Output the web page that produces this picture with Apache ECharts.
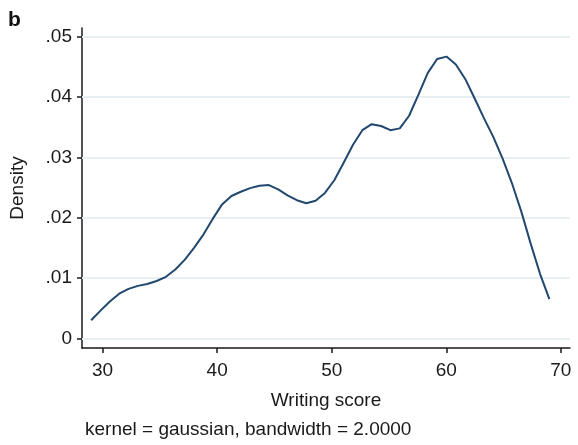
<!DOCTYPE html>
<html>
<head>
<meta charset="utf-8">
<script src="https://cdn.jsdelivr.net/npm/echarts@6/dist/echarts.min.js"></script>
<style>html,body{margin:0;padding:0;background:#fff}#c{width:578px;height:445px}</style>
</head>
<body>
<div id="c"></div>
<script>
// Writing score grid (50 evaluation points from 29 to 69)
const xStart = 29, xEnd = 69, nPoints = 50;
const density = [
  0.0030, 0.0046, 0.0061, 0.0074, 0.0082, 0.0087, 0.0090, 0.0095, 0.0102, 0.0114,
  0.0130, 0.0150, 0.0172, 0.0198, 0.0222, 0.0236, 0.0243, 0.0249, 0.0253, 0.0254,
  0.0247, 0.0237, 0.0229, 0.0224, 0.0228, 0.0241, 0.0262, 0.0291, 0.0321, 0.0345,
  0.0355, 0.0352, 0.0345, 0.0348, 0.0369, 0.0404, 0.0440, 0.0463, 0.0467, 0.0454,
  0.0430, 0.0398, 0.0365, 0.0334, 0.0298, 0.0257, 0.0210, 0.0157, 0.0107, 0.0065
];
const xTicks = [30, 40, 50, 60, 70];
const yTicks = [0, 0.01, 0.02, 0.03, 0.04, 0.05];
const yTickLabels = ['0', '.01', '.02', '.03', '.04', '.05'];

const data = density.map((d, i) => [xStart + (xEnd - xStart) * i / (nPoints - 1), d]);
const font = 'Liberation Sans, Arial, sans-serif';
const chart = echarts.init(document.getElementById('c'), null, {renderer: 'canvas'});
chart.setOption({
  animation: false,
  backgroundColor: '#fff',
  grid: {left: 82, right: 8, top: 28, bottom: 97, containLabel: false, outerBoundsMode: 'none'},
  xAxis: {
    type: 'value', min: 28.2, max: 70.8,
    name: 'Writing score', nameLocation: 'middle', nameGap: 43,
    nameTextStyle: {fontFamily: font, fontSize: 19, color: '#1a1a1a'},
    axisLine: {show: true, onZero: false, lineStyle: {color: '#1a1a1a', width: 1.5}},
    axisTick: {show: true, length: 5, customValues: xTicks, lineStyle: {color: '#1a1a1a', width: 1.5}},
    axisLabel: {customValues: xTicks, margin: 13, fontFamily: font, fontSize: 19, color: '#1a1a1a', showMinLabel: true, showMaxLabel: true, hideOverlap: false},
    splitLine: {show: false}
  },
  yAxis: {
    type: 'value', min: -0.0016, max: 0.05144,
    name: 'Density', nameLocation: 'middle', nameGap: 55, nameRotate: 90,
    nameTextStyle: {fontFamily: font, fontSize: 19, color: '#1a1a1a'},
    axisLine: {show: true, onZero: false, lineStyle: {color: '#1a1a1a', width: 1.5}},
    axisTick: {show: true, length: 5, customValues: yTicks, lineStyle: {color: '#1a1a1a', width: 1.5}},
    axisLabel: {customValues: yTicks, margin: 10, fontFamily: font, fontSize: 19, color: '#1a1a1a', hideOverlap: false,
      formatter: v => { const i = yTicks.findIndex(t => Math.abs(t - v) < 1e-9); return i >= 0 ? yTickLabels[i] : ''; }},
    splitLine: {show: false}
  },
  series: [{
    type: 'line', data: data, showSymbol: false, smooth: false,
    lineStyle: {color: '#22486f', width: 2},
    markLine: {
      silent: true, symbol: 'none', label: {show: false}, z: 1,
      lineStyle: {color: '#e8eff3', width: 2, type: 'solid'},
      data: yTicks.map(t => ({yAxis: t}))
    },
    z: 3
  }],
  graphic: [
    {type: 'text', left: 8, top: 10, style: {text: 'b', font: 'bold 21px ' + font, fill: '#111'}},
    {type: 'text', left: 85, top: 420, style: {text: 'kernel = gaussian, bandwidth = 2.0000', font: '19px ' + font, fill: '#1a1a1a'}}
  ]
});
</script>
</body>
</html>
